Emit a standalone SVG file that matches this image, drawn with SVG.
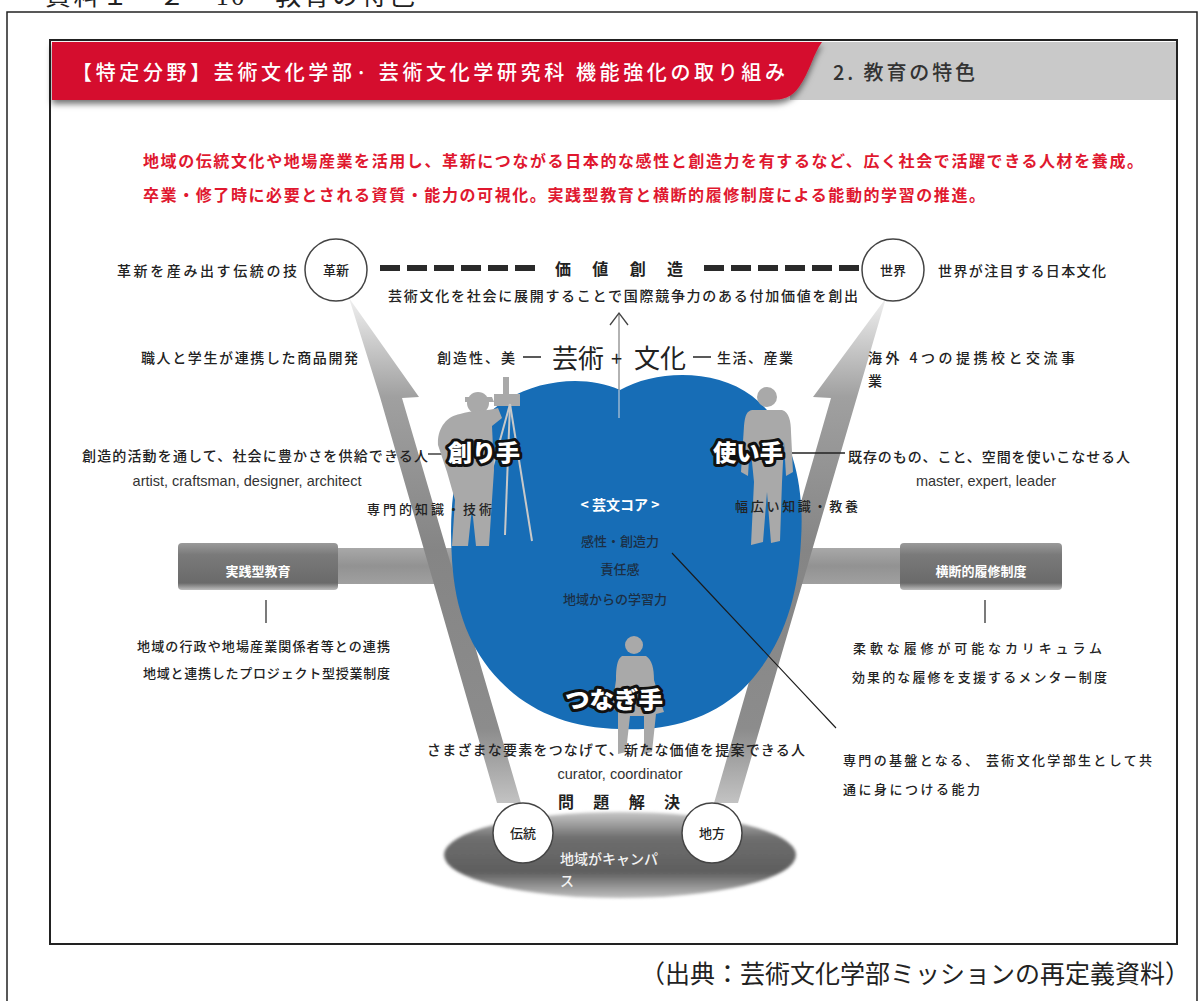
<svg xmlns="http://www.w3.org/2000/svg" width="1200" height="1001" viewBox="0 0 1200 1001">
  <defs>
    <style>
      .jp { font-family: 'Noto Sans CJK JP', sans-serif; fill: #222; }
      .en { font-family: 'Liberation Sans', Arial, sans-serif; fill: #333; }
      .red { fill: #e0182f; font-weight: bold; font-size: 16px; }
      .lbl { font-size: 14px; font-weight: 500; }
      .sm { font-size: 13px; font-weight: 500; }
      .core { fill: #1b2f45; font-size: 13px; font-weight: 500; }
      .role { font-size: 23px; font-weight: 900; fill: #fff; stroke: #111; stroke-width: 6px; paint-order: stroke; stroke-linejoin: round; }
      .ring { fill: #fff; stroke: #444; stroke-width: 1.5; }
      .dash { fill: #2a2a2a; }
      .fig { fill: #a9a9a9; }
    </style>
    <linearGradient id="armGrad" gradientUnits="userSpaceOnUse" x1="0" y1="295" x2="0" y2="805">
      <stop offset="0" stop-color="#f2f2f2"/>
      <stop offset="0.2" stop-color="#a0a0a0"/>
      <stop offset="0.5" stop-color="#858585"/>
      <stop offset="0.85" stop-color="#8c8c8c"/>
      <stop offset="1" stop-color="#c4c4c4"/>
    </linearGradient>
    <linearGradient id="boxGrad" x1="0" y1="0" x2="0" y2="1">
      <stop offset="0" stop-color="#9a9a9a"/>
      <stop offset="0.25" stop-color="#7a7a7a"/>
      <stop offset="0.85" stop-color="#6a6a6a"/>
      <stop offset="1" stop-color="#bdbdbd"/>
    </linearGradient>
    <linearGradient id="barGrad" x1="0" y1="0" x2="0" y2="1">
      <stop offset="0" stop-color="#a8a8a8"/>
      <stop offset="0.5" stop-color="#929292"/>
      <stop offset="1" stop-color="#a0a0a0"/>
    </linearGradient>
    <linearGradient id="baseGrad" x1="0" y1="0" x2="0" y2="1">
      <stop offset="0" stop-color="#c8c8c8"/>
      <stop offset="0.3" stop-color="#6e6e6e"/>
      <stop offset="0.7" stop-color="#5e5e5e"/>
      <stop offset="1" stop-color="#c0c0c0"/>
    </linearGradient>
    <filter id="shadow" x="-5%" y="-30%" width="110%" height="180%">
      <feDropShadow dx="0" dy="4" stdDeviation="3" flood-color="#000" flood-opacity="0.55"/>
    </filter>
    <filter id="soft" x="-10%" y="-20%" width="120%" height="140%">
      <feGaussianBlur stdDeviation="1.5"/>
    </filter>
  </defs>

  <rect width="1200" height="1001" fill="#fff"/>

  <!-- page caption, running off the top edge -->
  <text x="45" y="5" font-family="'Liberation Serif', 'Noto Sans CJK JP', serif" font-size="26" fill="#222" textLength="370" lengthAdjust="spacing">資料１－２－10　教育の特色</text>

  <!-- outer page frame -->
  <path d="M7,1001 V12 H1197 V1001" fill="none" stroke="#222" stroke-width="1.5"/>

  <!-- inner panel frame -->
  <rect x="50" y="40" width="1127" height="904" fill="#fff" stroke="#222" stroke-width="2"/>

  <!-- header -->
  <g id="header">
    <rect x="790" y="42" width="386" height="58" fill="#c9c9c9"/>
    <path d="M52,42 H822 C813,54 810,72 799,87 C792,97 784,100 770,100 H52 Z" fill="#d50f2f" filter="url(#shadow)"/>
    <text class="jp" x="72" y="80" font-size="20" font-weight="500" style="fill:#fff" textLength="713" lengthAdjust="spacing">【特定分野】芸術文化学部· 芸術文化学研究科 機能強化の取り組み</text>
    <text class="jp" x="833" y="80" font-size="20" font-weight="500" style="fill:#333" textLength="142" lengthAdjust="spacing">2. 教育の特色</text>
  </g>

  <!-- mission statement -->
  <g id="mission">
    <text class="jp red" x="143" y="167" textLength="1000" lengthAdjust="spacing">地域の伝統文化や地場産業を活用し、革新につながる日本的な感性と創造力を有するなど、広く社会で活躍できる人材を養成。</text>
    <text class="jp red" x="143" y="201" textLength="842" lengthAdjust="spacing">卒業・修了時に必要とされる資質・能力の可視化。実践型教育と横断的履修制度による能動的学習の推進。</text>
  </g>

  <!-- side bars leading into the core -->
  <g id="bars">
    <rect x="330" y="548" width="130" height="36" fill="url(#barGrad)"/>
    <rect x="770" y="548" width="140" height="36" fill="url(#barGrad)"/>
  </g>

  <!-- rising arms of the V -->
  <g id="arms">
    <path d="M349,298 L419,397 L402,398 L521,803 L497,803 L380,397 Z" fill="url(#armGrad)"/>
    <path d="M886,298 L813,397 L831,398 L714,803 L738,803 L857,397 Z" fill="url(#armGrad)"/>
  </g>

  <!-- practice-based education box -->
  <g id="box-practice">
    <rect x="178" y="543" width="160" height="47" rx="4" fill="url(#boxGrad)"/>
    <text class="jp" x="258" y="576" font-size="13" font-weight="bold" text-anchor="middle" style="fill:#fff">実践型教育</text>
  </g>

  <!-- cross-disciplinary course box -->
  <g id="box-cross">
    <rect x="900" y="543" width="162" height="47" rx="4" fill="url(#boxGrad)"/>
    <text class="jp" x="981" y="576" font-size="13" font-weight="bold" text-anchor="middle" style="fill:#fff">横断的履修制度</text>
  </g>

  <!-- blue core -->
  <g id="core">
    <path d="M620,390 C655,370 715,368 752,396 C790,425 805,480 801,540 C798,600 782,650 742,690 C706,722 664,731 620,729 C570,728 530,712 500,681 C470,650 455,610 452,560 C448,500 456,452 482,420 C512,385 575,370 620,390 Z" fill="#176db6"/>
    <text class="jp" x="620" y="510" font-size="14" font-weight="bold" text-anchor="middle" style="fill:#fff">&lt; 芸文コア &gt;</text>
    <text class="jp core" x="620" y="546" text-anchor="middle">感性・創造力</text>
    <text class="jp core" x="620" y="574" text-anchor="middle">責任感</text>
    <text class="jp core" x="615" y="604" text-anchor="middle">地域からの学習力</text>
  </g>

  <!-- connectors and leader lines -->
  <g id="connectors">
    <line x1="619" y1="314" x2="619" y2="390" stroke="#8a8a8a" stroke-width="1.3"/>
    <line x1="619" y1="390" x2="619" y2="418" stroke="#b9c9d8" stroke-width="1.2"/>
    <polyline points="610,325 619,313 628,325" fill="none" stroke="#444" stroke-width="1.3"/>
    <line x1="428" y1="454" x2="450" y2="454" stroke="#222" stroke-width="1.3"/>
    <line x1="783" y1="453" x2="845" y2="453" stroke="#222" stroke-width="1.3"/>
    <line x1="672" y1="553" x2="836" y2="728" stroke="#1a1a1a" stroke-width="1.1"/>
    <line x1="266" y1="600" x2="266" y2="623" stroke="#333" stroke-width="1.3"/>
    <line x1="985" y1="600" x2="985" y2="623" stroke="#333" stroke-width="1.3"/>
  </g>

  <!-- photographer figure -->
  <g id="creator">
    <rect x="494" y="394" width="26" height="12" class="fig"/>
    <rect x="503" y="377" width="6" height="18" class="fig"/>
    <g stroke="#c8c8c8" stroke-width="2" fill="none">
      <line x1="510" y1="404" x2="478" y2="520"/>
      <line x1="510" y1="404" x2="532" y2="541"/>
      <line x1="510" y1="404" x2="505" y2="535"/>
    </g>
    <circle cx="478" cy="403" r="11" class="fig"/>
    <path class="fig" d="M465,397 H492 L494,402 H465 Z"/>
    <path class="fig" d="M460,414 C472,410 488,411 498,408 L502,418 L492,426 L494,470 L492,500 L489,546 L476,546 L472,508 L468,546 L452,546 L455,500 L447,472 L438,445 C437,428 447,416 460,414 Z"/>
    <text class="jp role" x="448" y="461" textLength="72" lengthAdjust="spacingAndGlyphs">創り手</text>
  </g>

  <!-- standing user figure -->
  <g id="user">
    <circle cx="767" cy="397" r="10" class="fig"/>
    <path class="fig" d="M752,410 L782,410 C789,412 791,421 791,432 L793,472 L786,476 L784,442 L782,482 L780,541 L771,543 L767,492 L763,542 L751,545 L754,482 L750,442 L748,476 L741,472 L744,426 C745,415 747,411 752,410 Z"/>
    <text class="jp role" x="713" y="461" textLength="70" lengthAdjust="spacingAndGlyphs">使い手</text>
  </g>

  <!-- seated connector figure -->
  <g id="connector-person">
    <circle cx="634" cy="645" r="9" class="fig"/>
    <path class="fig" d="M622,656 L646,656 C652,660 654,668 654,680 L660,700 L664,712 L656,714 L652,752 L644,754 L644,716 L630,716 L626,752 L618,754 L618,712 L612,708 L616,680 C616,668 617,659 622,656 Z"/>
    <text class="jp role" x="565" y="708" textLength="98" lengthAdjust="spacingAndGlyphs">つなぎ手</text>
  </g>

  <!-- value creation row -->
  <g id="value-row">
    <g class="dash">
      <rect x="380" y="265" width="20" height="6"/><rect x="407" y="265" width="20" height="6"/><rect x="434" y="265" width="20" height="6"/>
      <rect x="461" y="265" width="20" height="6"/><rect x="488" y="265" width="20" height="6"/><rect x="515" y="265" width="20" height="6"/>
      <rect x="704" y="265" width="20" height="6"/><rect x="731" y="265" width="20" height="6"/><rect x="758" y="265" width="20" height="6"/>
      <rect x="785" y="265" width="20" height="6"/><rect x="812" y="265" width="20" height="6"/><rect x="839" y="265" width="20" height="6"/>
    </g>
    <text class="jp" x="555" y="275" font-size="16" font-weight="bold" textLength="128" lengthAdjust="spacing">価値創造</text>
    <text class="jp lbl" x="388" y="301" textLength="470" lengthAdjust="spacing">芸術文化を社会に展開することで国際競争力のある付加価値を創出</text>
  </g>

  <g id="node-innovation">
    <circle cx="336" cy="270" r="31" class="ring"/>
    <text class="jp" x="336" y="275" font-size="13" font-weight="500" text-anchor="middle">革新</text>
    <text class="jp lbl" x="117" y="276" textLength="180" lengthAdjust="spacing">革新を産み出す伝統の技</text>
  </g>

  <g id="node-world">
    <circle cx="893" cy="270" r="31" class="ring"/>
    <text class="jp" x="893" y="275" font-size="13" font-weight="500" text-anchor="middle">世界</text>
    <text class="jp lbl" x="938" y="276" textLength="168" lengthAdjust="spacing">世界が注目する日本文化</text>
  </g>

  <!-- art + culture row -->
  <g id="art-culture">
    <text class="jp lbl" x="141" y="363" textLength="217" lengthAdjust="spacing">職人と学生が連携した商品開発</text>
    <text class="jp lbl" x="437" y="363" textLength="78" lengthAdjust="spacing">創造性、美</text>
    <line x1="523" y1="357" x2="541" y2="357" stroke="#222" stroke-width="1.5"/>
    <text class="jp" x="552" y="368" font-size="26">芸術</text>
    <text class="jp" x="611" y="366" font-size="20">+</text>
    <text class="jp" x="634" y="368" font-size="26">文化</text>
    <line x1="693" y1="357" x2="711" y2="357" stroke="#222" stroke-width="1.5"/>
    <text class="jp lbl" x="717" y="363" textLength="76" lengthAdjust="spacing">生活、産業</text>
    <text class="jp lbl" x="868" y="363" textLength="207" lengthAdjust="spacing">海外 4つの提携校と交流事</text>
    <text class="jp lbl" x="868" y="386">業</text>
  </g>

  <!-- role descriptions -->
  <g id="role-texts">
    <text class="jp lbl" x="82" y="461" textLength="346" lengthAdjust="spacing">創造的活動を通して、社会に豊かさを供給できる人</text>
    <text class="en" x="247" y="486" font-size="14.5" text-anchor="middle">artist, craftsman, designer, architect</text>
    <text class="jp sm" x="367" y="514" textLength="125" lengthAdjust="spacing">専門的知識・技術</text>
    <text class="jp lbl" x="848" y="462" textLength="282" lengthAdjust="spacing">既存のもの、こと、空間を使いこなせる人</text>
    <text class="en" x="986" y="486" font-size="14.5" text-anchor="middle">master, expert, leader</text>
    <text class="jp sm" x="735" y="511" textLength="123" lengthAdjust="spacing">幅広い知識・教養</text>
    <text class="jp lbl" x="427" y="755" textLength="378" lengthAdjust="spacing">さまざまな要素をつなげて、新たな価値を提案できる人</text>
    <text class="en" x="620" y="779" font-size="14.5" text-anchor="middle">curator, coordinator</text>
  </g>

  <!-- notes under the side boxes -->
  <g id="notes">
    <text class="jp sm" x="137" y="651" textLength="253" lengthAdjust="spacing">地域の行政や地場産業関係者等との連携</text>
    <text class="jp sm" x="143" y="678" textLength="247" lengthAdjust="spacing">地域と連携したプロジェクト型授業制度</text>
    <text class="jp sm" x="853" y="653" textLength="249" lengthAdjust="spacing">柔軟な履修が可能なカリキュラム</text>
    <text class="jp sm" x="852" y="682" textLength="255" lengthAdjust="spacing">効果的な履修を支援するメンター制度</text>
    <text class="jp sm" x="843" y="765" textLength="309" lengthAdjust="spacing">専門の基盤となる、 芸術文化学部生として共</text>
    <text class="jp sm" x="843" y="794" textLength="137" lengthAdjust="spacing">通に身につける能力</text>
  </g>

  <!-- regional campus base -->
  <g id="base">
    <ellipse cx="620" cy="855" rx="176" ry="43" fill="url(#baseGrad)" filter="url(#soft)"/>
    <text class="jp" x="558" y="808" font-size="16" font-weight="bold" textLength="122" lengthAdjust="spacing">問題解決</text>
    <text class="jp" x="560" y="864" font-size="14" font-weight="500" style="fill:#f2f2f2">地域がキャンパ</text>
    <text class="jp" x="560" y="886" font-size="14" font-weight="500" style="fill:#f2f2f2">ス</text>
  </g>

  <g id="node-tradition">
    <circle cx="523" cy="833" r="30" class="ring"/>
    <text class="jp" x="523" y="838" font-size="13" font-weight="500" text-anchor="middle">伝統</text>
  </g>

  <g id="node-region">
    <circle cx="712" cy="833" r="30" class="ring"/>
    <text class="jp" x="712" y="838" font-size="13" font-weight="500" text-anchor="middle">地方</text>
  </g>

  <!-- source note -->
  <text x="1190" y="983" font-family="'Liberation Serif', 'Noto Sans CJK JP', serif" font-size="25" fill="#222" text-anchor="end">（出典：芸術文化学部ミッションの再定義資料）</text>
</svg>
